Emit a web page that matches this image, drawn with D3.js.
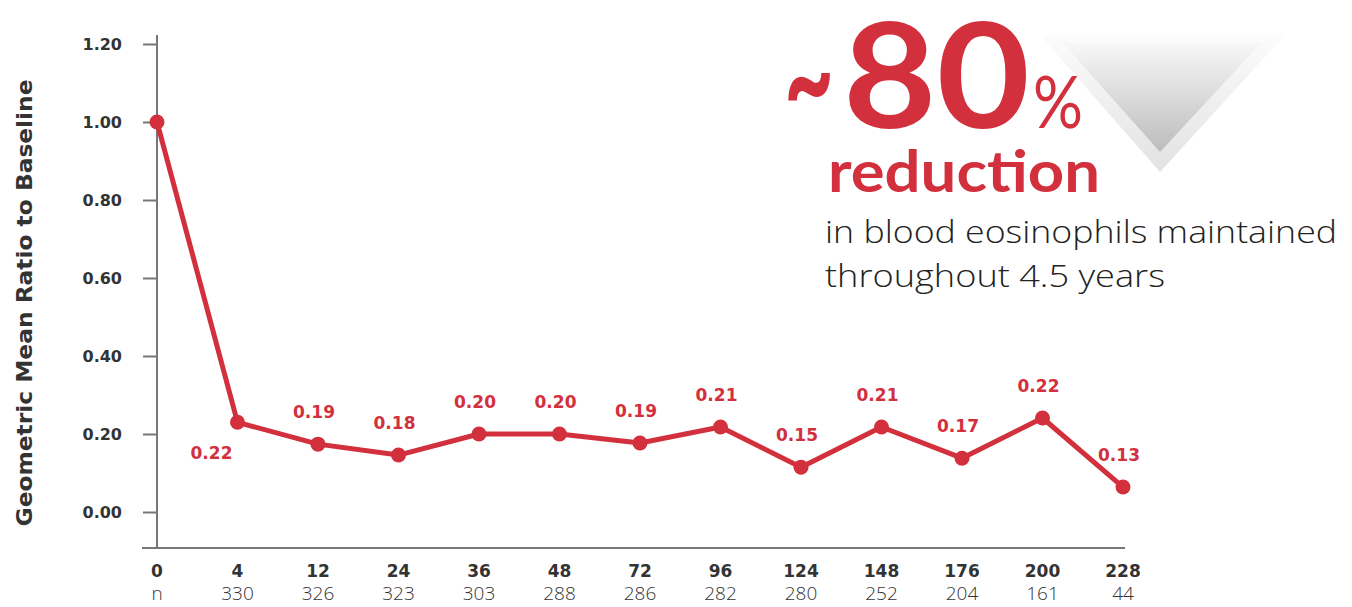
<!DOCTYPE html>
<html>
<head>
<meta charset="utf-8">
<script src="https://cdn.jsdelivr.net/npm/d3@7"></script>
<style>
  body { margin: 0; background: #fff; }
  svg { font-family: "DejaVu Sans", sans-serif; }
</style>
</head>
<body>
<svg id="chart" width="1352" height="607"></svg>
<script>
// weeks on treatment, patients at each visit
const weeks = ['0','4','12','24','36','48','72','96','124','148','176','200','228'];
const nCounts = ['330','326','323','303','288','286','282','280','252','204','161','44'];
// geometric mean ratio as printed and as placed on the picture
const ratioLabels = [null,'0.22','0.19','0.18','0.20','0.20','0.19','0.21','0.15','0.21','0.17','0.22','0.13'];
const plotted = [1.00,0.23,0.174,0.146,0.20,0.20,0.177,0.218,0.115,0.218,0.138,0.241,0.064];
const yTicks = [0,0.2,0.4,0.6,0.8,1.0,1.2];

const red = '#d3303d', dark = '#333';
const svg = d3.select('#chart');

const x = d3.scalePoint().domain(d3.range(weeks.length)).range([157, 1123]);
const y = d3.scaleLinear().domain([0, 1.2]).range([512, 44]);

// decorative down triangle
const defs = svg.append('defs');
const g1 = defs.append('linearGradient').attr('id','triOuter').attr('x1',0).attr('y1',0).attr('x2',0).attr('y2',1);
g1.append('stop').attr('offset','0%').attr('stop-color','#fcfcfc');
g1.append('stop').attr('offset','100%').attr('stop-color','#e2e2e2');
const g2 = defs.append('linearGradient').attr('id','triInner').attr('x1',0).attr('y1',0).attr('x2',0).attr('y2',1);
g2.append('stop').attr('offset','0%').attr('stop-color','#f8f8f8');
g2.append('stop').attr('offset','100%').attr('stop-color','#bcbcbc');
svg.append('path').attr('d','M1040,35 L1285,35 L1160,172 Z').attr('fill','url(#triOuter)');
svg.append('path').attr('d','M1062,42 L1262,42 L1160,152 Z').attr('fill','url(#triInner)');

// axes
const yAxis = svg.append('g').attr('transform','translate(157,0)')
  .call(d3.axisLeft(y).tickValues(yTicks).tickSize(14).tickFormat(d3.format('.2f')).tickPadding(21));
yAxis.select('.domain').attr('d','M0,35V548');
yAxis.selectAll('line, path').attr('stroke','#777').attr('stroke-width',2);
yAxis.selectAll('text').attr('font-size',16).attr('font-weight',700).attr('fill',dark)
  .attr('font-family','"DejaVu Sans", sans-serif');

svg.append('line').attr('x1',142).attr('x2',1125).attr('y1',548).attr('y2',548)
  .attr('stroke','#777').attr('stroke-width',2);

svg.append('text').attr('transform','translate(32,303) rotate(-90)')
  .attr('text-anchor','middle').attr('font-size',21).attr('font-weight',700).attr('fill',dark)
  .attr('textLength',447).attr('lengthAdjust','spacingAndGlyphs')
  .text('Geometric Mean Ratio to Baseline');

// x labels and n row
svg.append('g').selectAll('text').data(weeks).join('text')
  .attr('x',(d,i)=>x(i)).attr('y',577).attr('text-anchor','middle')
  .attr('font-size',17).attr('font-weight',700).attr('fill',dark).text(d=>d);
svg.append('text').attr('x',x(0)).attr('y',600).attr('text-anchor','middle')
  .attr('font-family','"Open Sans", sans-serif').attr('font-weight',300)
  .attr('font-size',19).attr('fill','#333').text('n');
svg.append('g').selectAll('text').data(nCounts).join('text')
  .attr('x',(d,i)=>x(i+1)).attr('y',600).attr('text-anchor','middle')
  .attr('font-family','"Open Sans", sans-serif').attr('font-weight',300)
  .attr('font-size',19).attr('fill','#333').text(d=>d);

// line + points
const line = d3.line().x((d,i)=>x(i)).y(d=>y(d));
svg.append('path').datum(plotted).attr('d',line).attr('fill','none')
  .attr('stroke',red).attr('stroke-width',5).attr('stroke-linejoin','round');
svg.append('g').selectAll('circle').data(plotted).join('circle')
  .attr('cx',(d,i)=>x(i)).attr('cy',d=>y(d)).attr('r',7.5).attr('fill',red);

svg.append('g').selectAll('text').data(ratioLabels.map((l,i)=>({l,i})).filter(d=>d.l)).join('text')
  .attr('x',d=> d.i===1 ? x(d.i)-26 : x(d.i)-4)
  .attr('y',d=> d.i===1 ? y(plotted[d.i])+37 : y(plotted[d.i])-26)
  .attr('text-anchor','middle').attr('font-size',17).attr('font-weight',700).attr('fill',red)
  .text(d=>d.l);

// callout
const big = svg.append('g').attr('font-family','Lato, sans-serif').attr('fill',red);
big.append('text').attr('x',784).attr('y',128).attr('font-size',140).attr('font-weight',700)
  .attr('textLength',50).attr('lengthAdjust','spacingAndGlyphs').text('~');
big.append('text').attr('x',843).attr('y',128).attr('font-size',145).attr('font-weight',700)
  .attr('textLength',187).attr('lengthAdjust','spacingAndGlyphs').text('80');
big.append('text').attr('x',1033).attr('y',128).attr('font-size',72).attr('font-weight',400)
  .attr('textLength',50).attr('lengthAdjust','spacingAndGlyphs').text('%');
big.append('text').attr('x',828).attr('y',192).attr('font-size',58).attr('font-weight',700)
  .attr('textLength',272).attr('lengthAdjust','spacingAndGlyphs').text('reduction');
const sub = svg.append('g').attr('font-family','"Open Sans", sans-serif').attr('fill','#222')
  .attr('font-size',32).attr('font-weight',300);
sub.append('text').attr('x',825).attr('y',243)
  .attr('textLength',512).attr('lengthAdjust','spacingAndGlyphs').text('in blood eosinophils maintained');
sub.append('text').attr('x',825).attr('y',287)
  .attr('textLength',340).attr('lengthAdjust','spacingAndGlyphs').text('throughout 4.5 years');
</script>
</body>
</html>
